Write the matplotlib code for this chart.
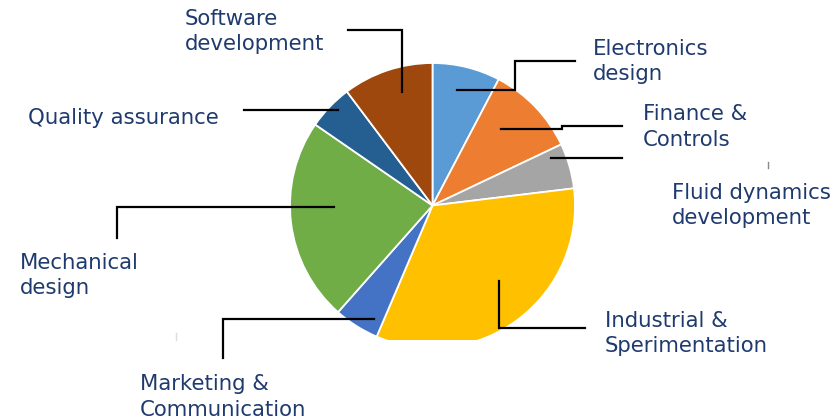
import matplotlib
matplotlib.use("Agg")
import matplotlib.pyplot as plt
from matplotlib.patches import Rectangle

# slice data, clockwise from 12 o'clock
labels = ["Electronics\ndesign", "Finance &\nControls", "Fluid dynamics\ndevelopment",
          "Industrial &\nSperimentation", "Marketing &\nCommunication", "Mechanical\ndesign",
          "Quality assurance", "Software\ndevelopment"]
values = [3, 4, 2, 13, 2, 9, 2, 4]
colors = ["#5B9BD5", "#ED7D31", "#A5A5A5", "#FFC000", "#4472C4", "#70AD47", "#255E91", "#9E480E"]

# label placement in pixels (left x, first baseline y) and leader polylines
label_pos = [(593, 55), (643, 120), (672, 199), (605, 327), (140, 390), (20, 269), (28, 124), (185, 25)]
leaders = [
    [(575, 61), (515, 61), (515, 90), (457, 90)],
    [(622, 126), (562, 126), (562, 129), (501, 129)],
    [(622, 158), (551, 158)],
    [(585, 328), (499, 328), (499, 281)],
    [(223, 358), (223, 319), (374, 319)],
    [(117, 238), (117, 207), (334, 207)],
    [(244, 110), (338, 110)],
    [(348, 30), (402, 30), (402, 92)],
]

W, H = 836, 420
text_color = "#1F3A6E"

fig = plt.figure(figsize=(W / 100, H / 100), dpi=100)
ax = fig.add_axes([0, 0, 1, 1])

wedges, _ = ax.pie(values, colors=colors, startangle=90, counterclock=False,
                   center=(432.5, H - 205.5), radius=142.5,
                   wedgeprops=dict(edgecolor="white", linewidth=1.3))

ax.set_xlim(0, W)
ax.set_ylim(0, H)
ax.set_aspect("auto")
ax.axis("off")

# pie is cut off at the bottom in the original
clip = Rectangle((0, H - 340), W, 340, transform=ax.transData)
for w in wedges:
    w.set_clip_on(True)
    w.set_clip_path(clip)

for pts in leaders:
    xs = [p[0] for p in pts]
    ys = [H - p[1] for p in pts]
    ax.plot(xs, ys, color="black", lw=1.6, solid_joinstyle="miter")

for lab, (x, y) in zip(labels, label_pos):
    for i, line in enumerate(lab.split("\n")):
        ax.text(x, H - (y + i * 25.5), line, color=text_color, fontsize=15.3,
                family="DejaVu Sans", va="baseline", ha="left")

# stray marks
ax.plot([768, 768], [H - 162, H - 168], color="#888888", lw=1)
ax.plot([176, 176], [H - 333, H - 340], color="#dddddd", lw=1)

fig.savefig("out.png", dpi=100)
